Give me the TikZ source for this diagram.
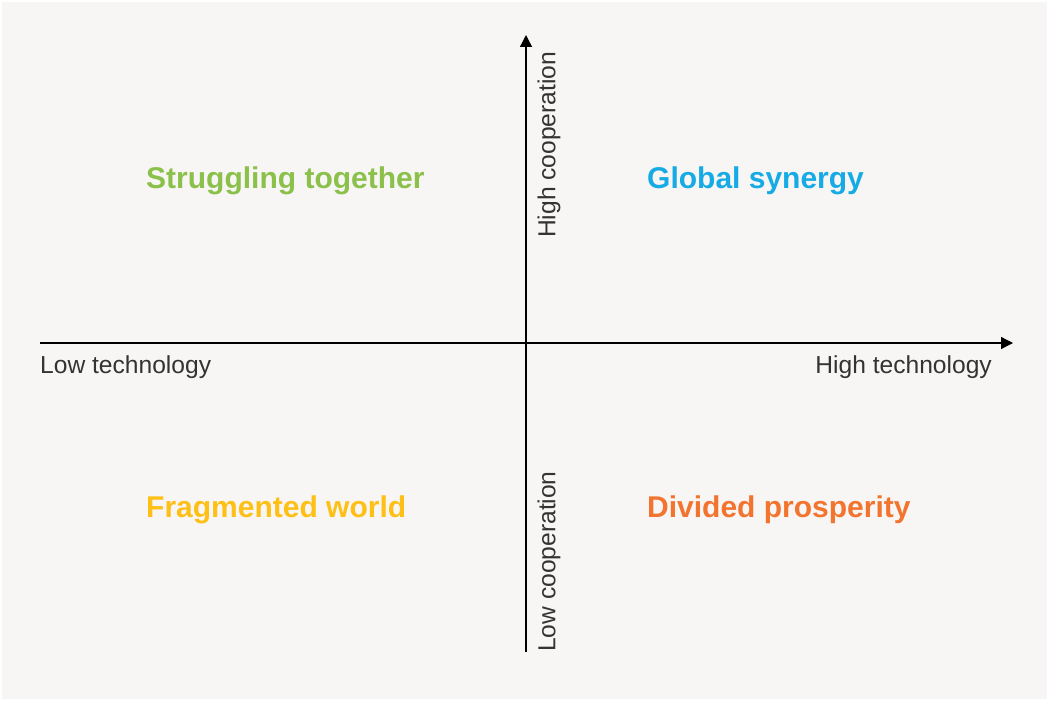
\documentclass[tikz,border=0pt]{standalone}
\usepackage{fontspec}
\setmainfont{Liberation Sans}
\usetikzlibrary{arrows.meta}
\definecolor{fondo}{RGB}{247,246,244}
\definecolor{ejes}{RGB}{51,51,51}
\definecolor{verde}{RGB}{139,193,75}
\definecolor{azul}{RGB}{22,171,228}
\definecolor{amarillo}{RGB}{254,192,22}
\definecolor{naranja}{RGB}{242,116,46}
\begin{document}
\begin{tikzpicture}[x=1pt,y=-1pt,
	eje/.style={line width=1.3pt, black, -{Triangle[width=12pt,length=12pt]}},
	etiqueta/.style={text=ejes, font=\fontsize{24.6}{24.6}\selectfont, inner sep=0pt},
	escenario/.style={font=\fontsize{30}{30}\selectfont\bfseries, inner sep=0pt, anchor=west}]
	\def\ox{526}
	\def\oy{343}
	
	% Fondo
	\useasboundingbox (0,0) rectangle (1049,701);
	\fill[white] (0,0) rectangle (1049,701);
	\fill[fondo] (2,2) rectangle (1047,699);
	
	% Ejes
	\coordinate (izq) at (40,\oy);
	\coordinate (der) at (1013,\oy);
	\coordinate (abajo) at (\ox,652);
	\coordinate (arriba) at (\ox,35);
	\draw[eje] (izq) -- (der);
	\draw[eje] (abajo) -- (arriba);
	
	% Etiquetas de los ejes
	\node[etiqueta, anchor=west] (lowtech) at (40,367) {Low technology};
	\node[etiqueta, anchor=east] (hightech) at (992,367) {High technology};
	\node[etiqueta, rotate=90, anchor=west] (highcoop) at (549,238) {High cooperation};
	\node[etiqueta, rotate=90, anchor=west] (lowcoop) at (549,652) {Low cooperation};
	
	% Escenarios
	\node[escenario, text=verde] (struggling) at (146,181) {Struggling together};
	\node[escenario, text=azul] (synergy) at (647,181) {Global synergy};
	\node[escenario, text=amarillo] (fragmented) at (146,510) {Fragmented world};
	\node[escenario, text=naranja] (divided) at (647,510) {Divided prosperity};
\end{tikzpicture}
\end{document}
